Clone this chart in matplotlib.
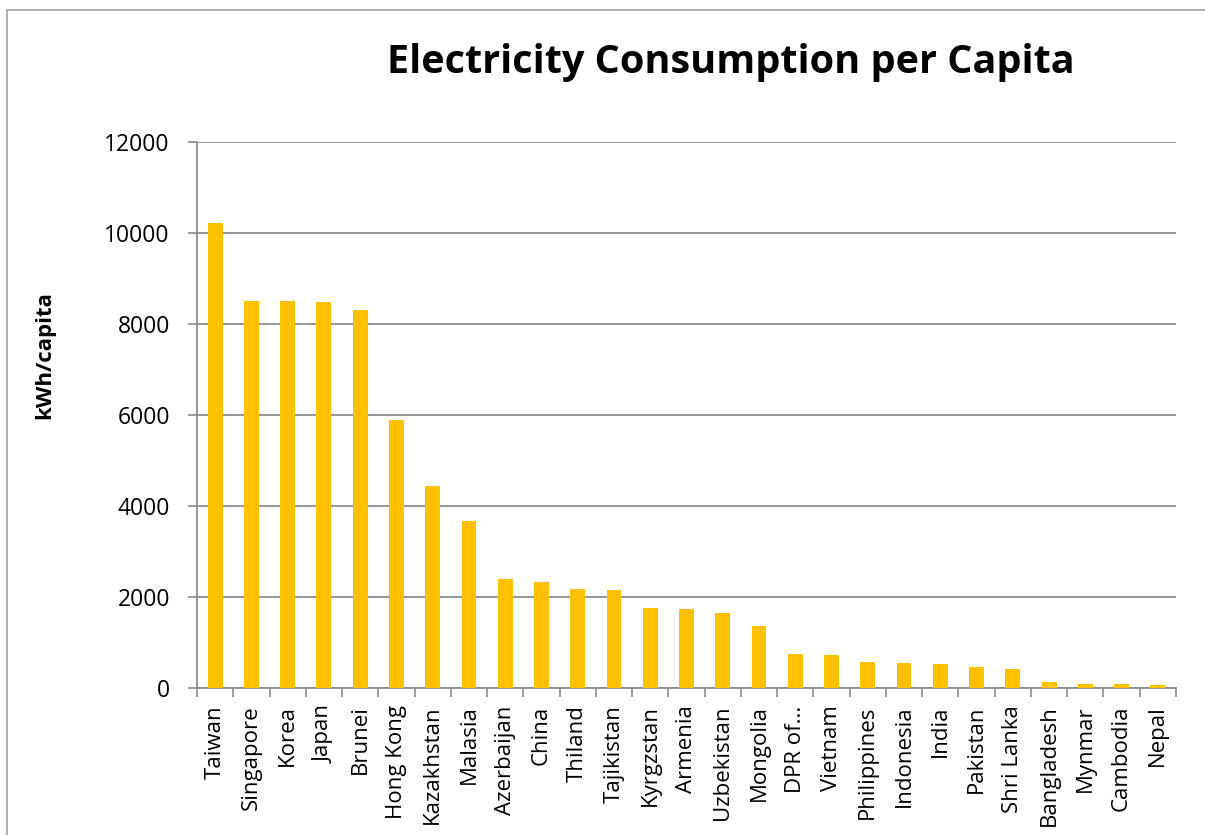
import matplotlib
matplotlib.use("Agg")
import matplotlib.pyplot as plt
from matplotlib.lines import Line2D

countries = ["Taiwan", "Singapore", "Korea", "Japan", "Brunei", "Hong Kong",
             "Kazakhstan", "Malasia", "Azerbaijan", "China", "Thiland", "Tajikistan",
             "Kyrgzstan", "Armenia", "Uzbekistan", "Mongolia", "DPR of...", "Vietnam",
             "Philippines", "Indonesia", "India", "Pakistan", "Shri Lanka", "Bangladesh",
             "Mynmar", "Cambodia", "Nepal"]
kwh_per_capita = [10210, 8510, 8500, 8480, 8300, 5890,
                  4440, 3660, 2390, 2320, 2170, 2160,
                  1760, 1730, 1650, 1365, 750, 720,
                  580, 550, 530, 465, 410, 140,
                  90, 82, 68]
y_ticks = [0, 2000, 4000, 6000, 8000, 10000, 12000]

W, H = 1205, 835
fig = plt.figure(figsize=(W / 100, H / 100), dpi=100)
plt.rcParams['font.family'] = ['Open Sans', 'DejaVu Sans']

left, right, top, bottom = 197, 1176, 142, 688
ax = fig.add_axes([left / W, 1 - bottom / H, (right - left) / W, (bottom - top) / H])

x = range(len(countries))
ax.bar(x, kwh_per_capita, width=0.41, color="#FFC000", zorder=3)
ax.set_xlim(-0.5, len(countries) - 0.5)
ax.set_ylim(0, 12000)
ax.set_yticks(y_ticks)
ax.set_yticklabels([str(v) for v in y_ticks], fontsize=16.5)
ax.yaxis.grid(True, color="#8c8c8c", linewidth=1.3, zorder=0)
ax.set_axisbelow(True)

ax.set_xticks([i - 0.5 for i in range(len(countries) + 1)], minor=False)
ax.set_xticklabels([])
ax.set_xticks(list(x), minor=True)
ax.set_xticklabels(countries, minor=True, rotation=90, fontsize=16)
ax.tick_params(axis='x', which='major', length=6.5, color="#8c8c8c", width=1.2)
ax.tick_params(axis='x', which='minor', length=0, pad=12.5)
ax.tick_params(axis='y', length=6.5, color="#8c8c8c", width=1.2, pad=13)

for s in ["top", "right"]:
    ax.spines[s].set_visible(False)
for s in ["left", "bottom"]:
    ax.spines[s].set_color("#8c8c8c")
    ax.spines[s].set_linewidth(1.3)

fig.text(731 / W, 1 - 63 / H, "Electricity Consumption per Capita",
         ha="center", va="center", fontsize=28.5, fontweight="bold")
fig.text(45 / W, 1 - 355 / H, "kWh/capita", rotation=90, ha="center", va="center",
         fontsize=16, fontweight="bold")

fig.add_artist(Line2D([7 / W, 7 / W], [0, 1 - 10 / H], color="#a6a6a6", linewidth=1.3,
                      transform=fig.transFigure))
fig.add_artist(Line2D([7 / W, 1], [1 - 10 / H, 1 - 10 / H], color="#a6a6a6", linewidth=1.3,
                      transform=fig.transFigure))

fig.savefig("out.png", dpi=100, facecolor="white")
